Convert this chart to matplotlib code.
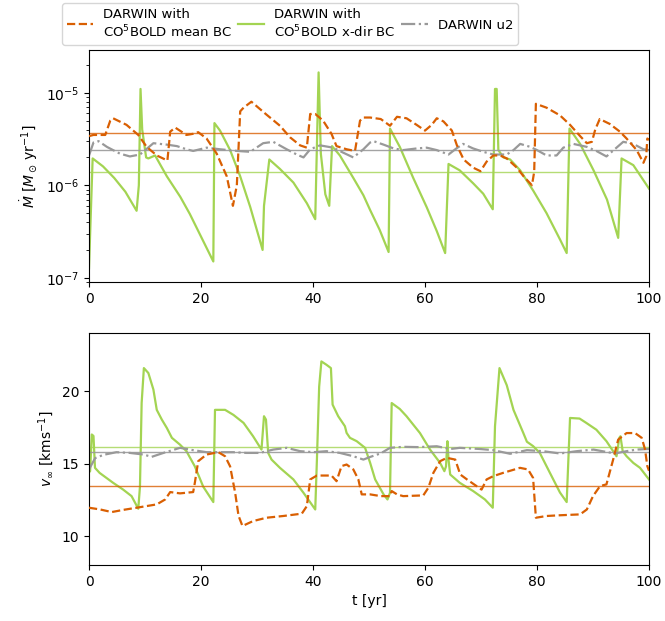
import numpy as np
import matplotlib
matplotlib.use("Agg")
import matplotlib.pyplot as plt

# ---------------- data ----------------
# Mass-loss rate, CO5BOLD x-dir BC (green)
t_mdot_x = [0.0, 0.65, 2.5, 4.5, 6.5, 8.5, 8.9, 9.2, 9.5, 10.2, 10.6, 11.8, 13.9, 16.3, 18.0, 22.2,
            22.4, 23.4, 25.2, 27.0, 28.8, 31.0, 31.25, 32.2, 34.1, 36.5, 38.9, 40.4, 40.8, 41.0, 41.4,
            42.2, 42.9, 43.4, 44.8, 47.2, 49.0, 50.2, 51.9, 53.5, 53.75, 55.5, 57.9, 60.3, 62.1, 63.6,
            64.2, 66.2, 68.6, 70.4, 72.1, 72.5, 72.8, 73.1, 74.0, 75.2, 77.0, 79.3, 81.7, 84.1, 85.3,
            85.8, 87.7, 90.1, 92.5, 94.5, 95.1, 97.2, 99.8, 100.0]
mdot_x = [1.27e-7, 1.95e-6, 1.6e-6, 1.2e-6, 8.5e-7, 5.3e-7, 1.0e-6, 1.1e-5, 4.0e-6, 2.0e-6, 1.95e-6,
          2.1e-6, 1.25e-6, 7.5e-7, 4.9e-7, 1.5e-7,
          4.7e-6, 3.9e-6, 2.4e-6, 1.25e-6, 5.8e-7, 2.0e-7, 6.0e-7, 1.9e-6, 1.5e-6, 1.07e-6, 6.4e-7, 4.3e-7,
          5.0e-6, 1.66e-5, 2.2e-6, 8.0e-7, 6.0e-7, 2.65e-6, 2.1e-6, 1.2e-6, 7.8e-7, 5.4e-7, 3.3e-7, 1.9e-7,
          4.1e-6, 2.6e-6, 1.2e-6, 5.8e-7, 3.2e-7, 1.85e-7,
          1.7e-6, 1.45e-6, 1.05e-6, 8.1e-7, 5.5e-7, 1.1e-5, 1.1e-5, 2.4e-6, 2.0e-6, 1.9e-6, 1.45e-6,
          8.8e-7, 5.0e-7, 2.6e-7, 1.85e-7,
          4.1e-6, 2.8e-6, 1.45e-6, 7.0e-7, 2.7e-7, 1.95e-6, 1.65e-6, 9.6e-7, 9.2e-7]

# Mass-loss rate, CO5BOLD mean BC (orange)
t_mdot_m = [0.0, 0.8, 2.9, 3.8, 4.3, 6.7, 8.8, 10.3, 12.1, 14.0, 14.5, 15.4, 17.4, 18.6, 19.5, 21.0,
            22.8, 24.6, 25.7, 26.4, 27.0, 27.6, 29.0, 31.7, 34.1, 35.9, 37.7, 38.9, 39.5, 40.4, 41.8,
            43.3, 44.2, 46.0, 47.5, 48.4, 49.0, 50.2, 52.1, 53.75, 55.0, 56.7, 58.5, 60.0, 61.2, 62.1,
            63.3, 64.8, 65.7, 66.9, 68.6, 69.9, 71.0, 72.2, 73.4, 74.6, 76.4, 77.6, 79.1, 79.5, 79.8,
            81.7, 84.1, 85.9, 87.7, 88.9, 89.8, 90.4, 91.2, 93.0, 94.8, 96.0, 97.8, 99.0, 99.5, 99.7, 100.0]
mdot_m = [3.4e-6, 3.5e-6, 3.5e-6, 5.0e-6, 5.3e-6, 4.5e-6, 3.5e-6, 2.6e-6, 2.1e-6, 1.85e-6, 3.8e-6,
          4.2e-6, 3.5e-6, 3.6e-6, 3.75e-6, 3.2e-6,
          2.2e-6, 1.25e-6, 6.0e-7, 1.0e-6, 6.3e-6, 6.9e-6, 8.0e-6, 5.8e-6, 4.4e-6, 3.3e-6, 2.7e-6, 2.55e-6,
          5.9e-6, 5.9e-6, 5.0e-6, 3.6e-6, 2.65e-6, 2.45e-6, 2.35e-6, 5.0e-6, 5.4e-6, 5.4e-6, 5.2e-6,
          4.4e-6, 5.5e-6, 5.3e-6, 4.5e-6, 3.9e-6, 4.5e-6, 5.3e-6,
          4.9e-6, 3.9e-6, 2.7e-6, 1.9e-6, 1.55e-6, 1.42e-6, 1.8e-6, 2.1e-6, 2.1e-6, 1.95e-6, 1.55e-6,
          1.25e-6, 1.0e-6, 1.4e-6, 7.6e-6, 6.9e-6, 5.7e-6, 4.5e-6, 3.4e-6, 2.85e-6, 2.95e-6, 4.0e-6,
          5.2e-6, 4.6e-6, 3.8e-6, 3.2e-6, 2.4e-6, 1.75e-6, 2.05e-6, 3.2e-6, 3.1e-6]

# Mass-loss rate, DARWIN u2 (grey)
t_mdot_u = [0.0, 0.8, 1.7, 3.2, 5.5, 7.3, 9.1, 11.5, 13.9, 15.7, 17.4, 18.6, 21.0, 23.4, 26.4, 28.8,
            31.1, 32.9, 35.3, 37.1, 38.3, 39.5, 41.25, 43.6, 45.4, 47.2, 49.0, 50.2, 50.8, 52.6, 54.4,
            56.1, 58.5, 60.3, 62.1, 64.2, 65.6, 66.8, 68.6, 70.4, 72.2, 74.6, 75.8, 77.0, 78.8, 80.0,
            81.7, 83.5, 84.7, 86.5, 88.9, 90.6, 92.4, 94.2, 95.4, 97.2, 99.0, 100.0]
mdot_u = [2.1e-6, 2.9e-6, 3.0e-6, 2.6e-6, 2.2e-6, 2.05e-6, 2.15e-6, 2.85e-6, 2.75e-6, 2.65e-6,
          2.45e-6, 2.35e-6, 2.55e-6, 2.45e-6, 2.35e-6, 2.3e-6,
          2.85e-6, 2.95e-6, 2.45e-6, 2.15e-6, 2.0e-6, 2.45e-6, 2.7e-6, 2.55e-6, 2.25e-6, 2.0e-6, 2.45e-6,
          2.9e-6, 3.0e-6, 2.75e-6, 2.5e-6, 2.4e-6, 2.5e-6, 2.55e-6, 2.4e-6, 2.15e-6, 2.5e-6, 2.8e-6,
          2.5e-6, 2.3e-6, 2.15e-6, 2.15e-6, 2.4e-6, 2.8e-6, 2.6e-6, 2.4e-6, 2.1e-6, 2.1e-6, 2.55e-6,
          2.8e-6, 2.6e-6, 2.35e-6, 2.05e-6, 2.55e-6, 2.95e-6, 2.8e-6, 2.45e-6, 2.4e-6]

# Mean values (horizontal lines), top panel
mdot_mean_m = 3.65e-6
mdot_mean_x = 1.40e-6
mdot_mean_u = 2.40e-6

# Wind velocity (t [yr], v [km/s]) pairs, CO5BOLD x-dir BC (green)
v_x_pts = [(0.0, 14.4), (0.2, 14.47), (0.5, 17.0), (0.8, 16.9), (1.07, 14.7), (1.9, 14.35),
           (4.3, 13.67), (6.1, 13.2), (7.6, 12.75), (8.8, 11.88), (9.1, 13.4), (9.4, 19.17),
           (9.8, 21.58), (10.6, 21.24), (11.5, 20.1), (12.1, 18.7), (13.0, 18.03), (13.9, 17.45),
           (14.8, 16.77), (16.25, 16.3), (17.4, 15.85), (18.9, 14.8), (20.4, 13.4), (22.2, 12.34),
           (22.5, 18.7), (24.3, 18.7), (25.8, 18.35), (27.6, 17.8), (29.3, 16.88), (30.8, 15.96),
           (31.25, 18.26), (31.6, 18.03), (32.0, 15.73), (32.6, 15.27), (34.1, 14.7), (36.5, 13.9),
           (38.3, 12.98), (40.4, 11.83), (40.7, 15.27), (41.1, 20.3), (41.5, 22.04), (42.4, 21.81),
           (43.2, 21.58), (43.5, 19.06), (44.5, 18.26), (45.7, 17.57), (46.0, 17.11), (46.6, 16.77),
           (47.8, 16.54), (49.3, 16.08), (50.2, 15.05), (51.1, 13.9), (52.6, 12.87), (53.3, 12.52),
           (53.75, 12.98), (54.05, 19.17), (55.5, 18.76), (56.7, 18.26), (59.1, 17.1), (60.9, 15.96),
           (62.7, 15.04), (63.46, 14.47), (63.75, 14.8), (64.0, 16.54), (64.2, 15.27), (64.5, 14.24),
           (66.2, 13.67), (68.6, 13.1), (70.7, 12.52), (72.1, 11.95), (72.5, 17.57), (73.3, 21.58),
           (74.6, 20.4), (75.8, 18.7), (77.56, 17.1), (78.2, 16.5), (79.3, 16.2), (80.5, 15.73),
           (82.3, 14.36), (84.1, 13.0), (85.3, 12.34), (85.9, 18.14), (87.6, 18.1), (88.8, 17.8),
           (90.6, 17.33), (92.4, 16.54), (94.2, 15.5), (94.7, 16.77), (94.9, 16.88), (95.3, 15.85),
           (96.0, 15.5), (97.2, 15.04), (98.4, 14.7), (99.8, 14.0), (100.0, 13.9)]

# Wind velocity, CO5BOLD mean BC (orange)
v_m_pts = [(0.0, 11.95), (2.0, 11.83), (4.05, 11.65), (6.1, 11.8), (8.5, 11.95), (12.1, 12.18),
           (13.6, 12.52), (14.5, 13.03), (16.25, 12.94), (18.6, 13.03), (18.9, 13.67), (19.5, 15.16),
           (21.0, 15.62), (23.1, 15.78), (24.3, 15.5), (25.2, 14.8), (26.1, 12.98), (26.7, 11.4),
           (27.4, 10.69), (29.3, 11.03), (31.7, 11.26), (34.7, 11.38), (38.0, 11.54), (38.9, 12.06),
           (39.5, 13.9), (40.7, 14.17), (43.3, 14.17), (44.2, 13.78), (45.1, 14.82), (46.0, 14.93),
           (47.2, 14.59), (48.1, 13.9), (48.7, 12.87), (50.2, 12.87), (52.1, 12.75), (53.75, 12.75),
           (54.05, 13.1), (55.0, 12.87), (56.1, 12.75), (59.7, 12.8), (60.6, 13.33), (61.5, 14.36),
           (62.7, 15.16), (63.9, 15.39), (65.4, 15.27), (66.3, 14.24), (67.5, 13.9), (70.1, 13.2),
           (71.0, 13.9), (72.2, 14.13), (74.0, 14.36), (76.96, 14.7), (78.4, 14.59), (79.3, 14.01),
           (79.8, 11.26), (81.7, 11.38), (84.1, 11.43), (87.7, 11.49), (88.9, 11.83), (90.0, 12.75),
           (91.25, 13.44), (92.4, 13.56), (93.6, 15.27), (94.5, 16.65), (96.0, 17.1), (97.5, 17.1),
           (98.7, 16.77), (99.3, 15.96), (99.7, 14.82), (100.0, 14.5)]

# Wind velocity, DARWIN u2 (grey)
v_u_pts = [(0.0, 14.6), (1.1, 15.37), (2.6, 15.6), (4.9, 15.78), (7.3, 15.73), (9.7, 15.62),
           (11.2, 15.46), (13.3, 15.73), (16.25, 16.08), (18.6, 15.92), (21.0, 15.78), (23.4, 15.78),
           (25.8, 15.78), (28.1, 15.73), (30.5, 15.73), (32.9, 15.96), (35.3, 16.08), (37.7, 15.85),
           (40.1, 15.78), (42.4, 15.85), (44.8, 15.73), (47.2, 15.5), (49.0, 15.27), (50.2, 15.45),
           (52.1, 15.7), (53.75, 16.08), (56.1, 16.15), (58.8, 16.13), (62.1, 16.19), (64.5, 16.0),
           (66.2, 16.08), (69.8, 16.0), (72.2, 15.92), (75.2, 15.67), (78.2, 15.92), (81.1, 15.85),
           (84.1, 15.69), (87.1, 15.85), (90.1, 15.96), (93.9, 15.69), (96.0, 15.85), (97.8, 15.96),
           (100.0, 16.0)]

v_mean_m = 13.44
v_mean_x = 16.17
v_mean_u = 15.76

labels = ["DARWIN with\nCO$^5$BOLD mean BC", "DARWIN with\nCO$^5$BOLD x-dir BC", "DARWIN u2"]

# ---------------- style ----------------
c_or = "#d95f02"
c_gr = "#a3d452"
c_gy = "#999999"
lw = 1.6

fig = plt.figure(figsize=(6.65, 6.21), dpi=100)
W, H = 665.0, 621.0
ax1 = fig.add_axes([89 / W, 1 - 282 / H, 560 / W, 232 / H])
ax2 = fig.add_axes([89 / W, 1 - 565 / H, 560 / W, 232 / H])

l1, = ax1.plot(t_mdot_m, mdot_m, color=c_or, ls="--", lw=lw, zorder=3)
l2, = ax1.plot(t_mdot_x, mdot_x, color=c_gr, ls="-", lw=lw, zorder=2)
l3, = ax1.plot(t_mdot_u, mdot_u, color=c_gy, ls="-.", lw=lw, zorder=2.5)
ax1.axhline(mdot_mean_m, color=c_or, lw=1.0, alpha=0.8)
ax1.axhline(mdot_mean_x, color=c_gr, lw=1.0, alpha=0.8)
ax1.axhline(mdot_mean_u, color=c_gy, lw=1.0, alpha=0.9)
ax1.set_yscale("log")
ax1.set_xlim(0, 100)
ax1.set_ylim(9.0e-8, 2.9e-5)
ax1.set_ylabel(r"$\dot{M}$ [$M_\odot\,\mathrm{yr}^{-1}$]", fontsize=10)

def unzip(pts):
    return [p[0] for p in pts], [p[1] for p in pts]

tm, vm = unzip(v_m_pts)
tx, vx = unzip(v_x_pts)
tu, vu = unzip(v_u_pts)
ax2.plot(tm, vm, color=c_or, ls="--", lw=lw, zorder=3)
ax2.plot(tx, vx, color=c_gr, ls="-", lw=lw, zorder=2)
ax2.plot(tu, vu, color=c_gy, ls="-.", lw=lw, zorder=2.5)
ax2.axhline(v_mean_m, color=c_or, lw=1.0, alpha=0.8)
ax2.axhline(v_mean_x, color=c_gr, lw=1.0, alpha=0.8)
ax2.axhline(v_mean_u, color=c_gy, lw=1.0, alpha=0.9)
ax2.set_xlim(0, 100)
ax2.set_ylim(8, 24)
ax2.set_yticks([10, 15, 20])
ax2.set_ylabel(r"$v_\infty$ [kms$^{-1}$]", fontsize=10)
ax2.set_xlabel("t [yr]", fontsize=10)

for ax in (ax1, ax2):
    ax.tick_params(labelsize=10)

fig.legend([l1, l2, l3], labels, loc="upper center", ncol=3,
           bbox_to_anchor=(290 / W, 1 - 3 / H), borderaxespad=0.0, fontsize=9.5,
           handlelength=2.0, handletextpad=0.75, columnspacing=0.45,
           borderpad=0.35, framealpha=0.8)

fig.savefig("out.png", dpi=100)
